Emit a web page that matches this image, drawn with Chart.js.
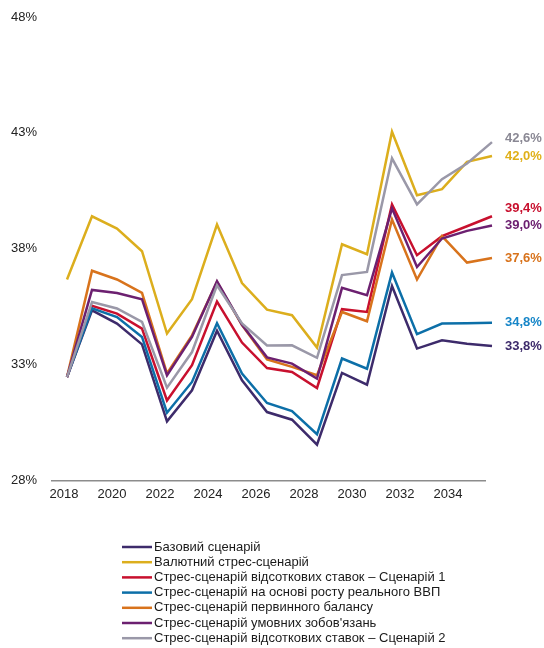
<!DOCTYPE html>
<html>
<head>
<meta charset="utf-8">
<script src="https://cdn.jsdelivr.net/npm/chart.js@4.4.1/dist/chart.umd.min.js"></script>
<style>
  html, body { margin: 0; padding: 0; background: #ffffff; }
  #wrap { width: 544px; height: 648px; position: relative; }
</style>
</head>
<body>
<div id="wrap"><canvas id="debtChart" width="544" height="648"></canvas></div>
<script>
// Years on the horizontal axis and the labelled ticks
const years = [2018, 2019, 2020, 2021, 2022, 2023, 2024, 2025, 2026, 2027, 2028, 2029, 2030, 2031, 2032, 2033, 2034, 2035];
const tickYears = [2018, 2020, 2022, 2024, 2026, 2028, 2030, 2032, 2034];
const yTicks = [28, 33, 38, 43, 48];

// Scenario names (legend order)
const seriesNames = [
  "Базовий сценарій",
  "Валютний стрес-сценарій",
  "Стрес-сценарій відсоткових ставок – Сценарій 1",
  "Стрес-сценарій на основі росту реального ВВП",
  "Стрес-сценарій первинного балансу",
  "Стрес-сценарій умовних зобов'язань",
  "Стрес-сценарій відсоткових ставок – Сценарій 2"
];

// Debt ratio by scenario, %
const baseScenario     = [32.46, 35.34, 34.77, 33.87, 30.55, 31.89, 34.46, 32.32, 30.95, 30.62, 29.54, 32.64, 32.13, 36.39, 33.69, 34.05, 33.90, 33.8];
const fxStress         = [36.67, 39.40, 38.87, 37.89, 34.34, 35.82, 39.04, 36.52, 35.37, 35.13, 33.73, 38.19, 37.76, 43.05, 40.31, 40.57, 41.75, 42.0];
const rateStress1      = [32.46, 35.54, 35.20, 34.55, 31.45, 32.97, 35.72, 33.95, 32.85, 32.68, 31.99, 35.39, 35.27, 39.91, 37.72, 38.54, 38.97, 39.4];
const gdpStress        = [32.46, 35.43, 35.05, 34.19, 30.92, 32.25, 34.78, 32.61, 31.34, 30.99, 29.99, 33.26, 32.82, 36.97, 34.31, 34.77, 34.78, 34.8];
const primaryBalStress = [32.46, 37.05, 36.67, 36.09, 32.62, 34.26, 36.57, 34.70, 33.22, 32.90, 32.54, 35.27, 34.87, 39.26, 36.67, 38.54, 37.40, 37.6];
const contingentStress = [32.46, 36.22, 36.09, 35.82, 32.53, 34.19, 36.60, 34.72, 33.31, 33.04, 32.39, 36.31, 35.99, 39.74, 37.21, 38.44, 38.77, 39.0];
const rateStress2      = [32.46, 35.70, 35.42, 34.84, 32.00, 33.54, 36.42, 34.77, 33.82, 33.83, 33.29, 36.86, 37.00, 41.90, 39.91, 41.00, 41.68, 42.6];

const seriesValues = [baseScenario, fxStress, rateStress1, gdpStress, primaryBalStress, contingentStress, rateStress2];
const lineColors  = ["#3d2b6b", "#dcae1d", "#c8102e", "#0c6fa8", "#d8731c", "#6c2070", "#9a98a8"];
const labelColors = ["#3d2b6b", "#e0b01a", "#c8102e", "#1786c8", "#d8731c", "#6c2070", "#8a8894"];

const FONT = "'Liberation Sans', Arial, sans-serif";

// Value labels at the right-hand end of each line, nudged apart when they collide
const endLabels = {
  id: "endLabels",
  afterDatasetsDraw(chart) {
    const ctx = chart.ctx;
    const items = chart.data.datasets.map((ds, i) => {
      const meta = chart.getDatasetMeta(i);
      const pt = meta.data[meta.data.length - 1];
      const v = ds.data[ds.data.length - 1].y;
      return { x: pt.x + 13, y: pt.y, text: v.toFixed(1).replace(".", ",") + "%", color: labelColors[i] };
    }).sort((a, b) => a.y - b.y);
    const gap = 17.5;
    for (let i = items.length - 2; i >= 0; i--) {
      if (items[i + 1].y - items[i].y < gap) items[i].y = items[i + 1].y - gap;
    }
    ctx.save();
    ctx.font = "bold 13px " + FONT;
    ctx.textAlign = "left";
    ctx.textBaseline = "middle";
    items.forEach(it => { ctx.fillStyle = it.color; ctx.fillText(it.text, it.x, it.y); });
    ctx.restore();
  }
};

// One-scenario-per-row legend beneath the plot
const rowLegend = {
  id: "rowLegend",
  afterDraw(chart) {
    const ctx = chart.ctx;
    const top = 547, step = 15.2;
    ctx.save();
    ctx.font = "13px " + FONT;
    ctx.textBaseline = "middle";
    ctx.textAlign = "left";
    chart.data.datasets.forEach((ds, i) => {
      const y = top + i * step;
      ctx.strokeStyle = ds.borderColor;
      ctx.lineWidth = 2.5;
      ctx.beginPath();
      ctx.moveTo(122, y);
      ctx.lineTo(152, y);
      ctx.stroke();
      ctx.fillStyle = "#1a1a1a";
      ctx.fillText(ds.label, 154, y);
    });
    ctx.restore();
  }
};

const datasets = seriesValues.map((vals, i) => ({
  label: seriesNames[i],
  data: years.map((yr, k) => ({ x: yr, y: vals[k] })),
  borderColor: lineColors[i],
  backgroundColor: lineColors[i],
  borderWidth: 2.5,
  pointRadius: 0,
  tension: 0,
  fill: false,
  clip: false,
  order: -i
}));

// keep tick-label overhang from pushing the plot area around
const noOverhang = axis => { axis.paddingLeft = 0; axis.paddingRight = 0; axis.paddingTop = 0; axis.paddingBottom = 0; };

new Chart(document.getElementById("debtChart"), {
  type: "line",
  data: { datasets },
  options: {
    responsive: false,
    animation: false,
    devicePixelRatio: 1,
    layout: { padding: { left: 11, right: 59, top: 17, bottom: 140 } },
    plugins: { legend: { display: false }, tooltip: { enabled: false } },
    scales: {
      x: { type: "linear", display: false, min: 2017.4, max: 2034.72 },
      xt: {
        type: "linear",
        position: "bottom",
        min: 2017.5,
        max: 2035.54,
        afterBuildTicks: axis => { axis.ticks = tickYears.map(v => ({ value: v })); },
        afterFit: noOverhang,
        ticks: { callback: v => String(v), font: { family: FONT, size: 13 }, color: "#222222", padding: 6, maxRotation: 0, autoSkip: false },
        grid: { display: false, drawTicks: false },
        border: { display: true, color: "#8c8c8c", width: 1.5 }
      },
      y: {
        type: "linear",
        min: 28,
        max: 48,
        afterBuildTicks: axis => { axis.ticks = yTicks.map(v => ({ value: v })); },
        afterFit: axis => { noOverhang(axis); axis.width = 41; },
        ticks: { callback: v => v + "%", font: { family: FONT, size: 13 }, color: "#222222", padding: 15 },
        grid: { display: false, drawTicks: false },
        border: { display: false }
      }
    }
  },
  plugins: [endLabels, rowLegend]
});
</script>
</body>
</html>
